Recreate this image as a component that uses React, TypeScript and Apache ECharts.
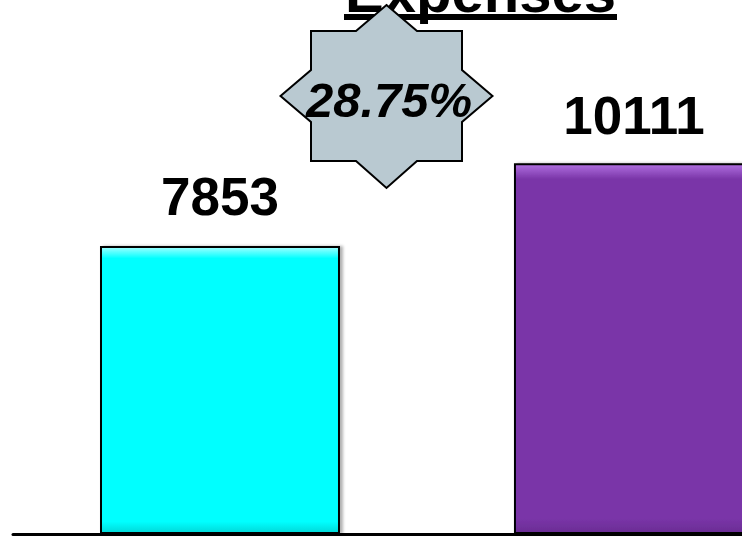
import React, { useEffect, useRef } from "react";
import * as echarts from "echarts";

const categories = ["Previous", "Current"];
const values = [7853, 10111];
const barColors = ["#00FFFF", "#7A35A8"];
const barLight = ["#9FFFFF", "#B070E0"];
const barDark = ["#00D8D8", "#6A2C94"];
const titleText = "Expenses";

const FONT = "'Liberation Sans', Arial, Helvetica, sans-serif";

export default function App() {
  const ref = useRef<HTMLDivElement>(null);
  useEffect(() => {
    if (!ref.current) return;
    const chart = echarts.init(ref.current, null, { renderer: "svg" });
    const pct = (((values[1] - values[0]) / values[0]) * 100).toFixed(2) + "%";
    const cx = 386.5;
    const cy = 96;
    const starPts = [
      [0, -91], [30.5, -65], [75.5, -65], [75.5, -26], [106, 0], [75.5, 26],
      [75.5, 65], [30.5, 65], [0, 92], [-30.5, 65], [-75.5, 65], [-75.5, 26],
      [-106, 0], [-75.5, -26], [-75.5, -65], [-30.5, -65],
    ].map(([dx, dy]) => [cx + dx, cy + dy]);

    chart.setOption({
      animation: false,
      backgroundColor: "#ffffff",
      grid: { left: 13, top: 94, right: 0, bottom: 5, containLabel: false },
      xAxis: {
        type: "value",
        min: -0.5,
        max: 1.261,
        axisLine: { show: true, onZero: false, lineStyle: { color: "#000", width: 3 } },
        axisTick: { show: false },
        axisLabel: { show: false },
        splitLine: { show: false },
      },
      yAxis: {
        type: "value",
        min: 0,
        max: 12000,
        show: false,
        splitLine: { show: false },
      },
      series: [
        {
          type: "bar",
          name: "Expenses",
          barWidth: 240,
          data: values.map((v, i) => ({
            name: categories[i],
            value: [i, v],
            label: { distance: i === 0 ? 23 : 21 },
            itemStyle: {
              color: new echarts.graphic.LinearGradient(0, 0, 0, 1, [
                { offset: 0, color: barLight[i] },
                { offset: 0.04, color: barColors[i] },
                { offset: 0.96, color: barColors[i] },
                { offset: 1, color: barDark[i] },
              ]),
              borderColor: "#000",
              borderWidth: 2,
              shadowColor: "rgba(0,0,0,0.3)",
              shadowBlur: 3,
              shadowOffsetX: 3,
            },
          })),
          label: {
            show: true,
            position: "top",
            color: "#000",
            fontSize: 53,
            fontWeight: "bold",
            fontFamily: FONT,
            formatter: (p: any) => String(p.value[1]),
          },
        },
      ],
      graphic: [
        {
          type: "text",
          x: 480.5,
          y: -9,
          z: 10,
          style: {
            text: titleText,
            fill: "#000",
            fontSize: 58,
            fontWeight: "bold",
            fontFamily: FONT,
            align: "center",
            verticalAlign: "middle",
          },
        },
        {
          type: "rect",
          z: 10,
          shape: { x: 344, y: 14, width: 273, height: 6 },
          style: { fill: "#000" },
        },
        {
          type: "polygon",
          z: 20,
          shape: { points: starPts },
          style: { fill: "#B9C9D1", stroke: "#000", lineWidth: 2 },
        },
        {
          type: "text",
          x: 389,
          y: 100,
          z: 30,
          style: {
            text: pct,
            fill: "#000",
            fontSize: 49,
            fontWeight: "bold",
            fontStyle: "italic",
            fontFamily: FONT,
            align: "center",
            verticalAlign: "middle",
          },
        },
      ],
    });
    return () => chart.dispose();
  }, []);
  return (
    <div
      ref={ref}
      style={{ position: "fixed", left: 0, top: 0, width: 742, height: 539 }}
    />
  );
}
